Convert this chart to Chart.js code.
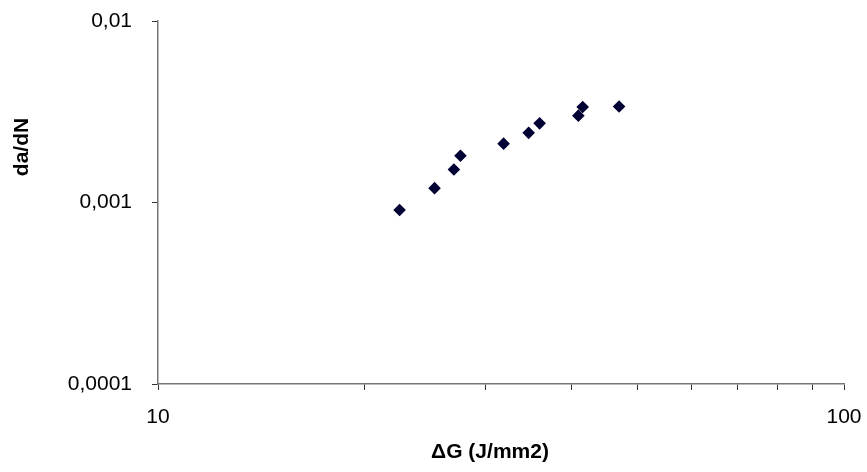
<!DOCTYPE html>
<html><head><meta charset="utf-8">
<script src="https://cdn.jsdelivr.net/npm/chart.js@4/dist/chart.umd.min.js"></script>
<style>html,body{margin:0;padding:0;background:#fff}#wrap{width:867px;height:472px;position:relative}canvas{display:block}</style>
</head><body><div id="wrap"><canvas id="c" width="867" height="472"></canvas></div>
<script>
const deltaG = [22.5, 25.3, 27.0, 27.6, 31.9, 34.7, 36.0, 41.0, 41.6, 47.0];
const dadN = [0.00091, 0.00120, 0.00152, 0.00181, 0.00211, 0.00242, 0.00273, 0.00301, 0.00336, 0.00338];
const xTickValues = [10, 20, 30, 40, 50, 60, 70, 80, 90, 100];
const xLabeled = [10, 100];
const yTickValues = [0.0001, 0.001, 0.01];
const yTickLabels = ['0,0001', '0,001', '0,01'];
const xTitle = 'ΔG (J/mm2)';
const yTitle = 'da/dN';

const FONT = "'Liberation Sans', Arial, sans-serif";

const titlePlugin = {
  id: 'axisTitles',
  afterDraw(chart) {
    const ctx = chart.ctx;
    ctx.save();
    ctx.fillStyle = '#000';
    ctx.font = "bold 21px " + FONT;
    ctx.textAlign = 'center';
    ctx.textBaseline = 'middle';
    ctx.fillText(xTitle, 490, 452);
    ctx.translate(22, 147);
    ctx.rotate(-Math.PI / 2);
    ctx.fillText(yTitle, 0, 0);
    ctx.restore();
  }
};

new Chart(document.getElementById('c'), {
  type: 'scatter',
  data: {
    datasets: [{
      data: deltaG.map((x, i) => ({ x: x, y: dadN[i] })),
      pointStyle: 'rectRot',
      pointRadius: 6.3,
      pointHoverRadius: 6.3,
      backgroundColor: '#000033',
      borderColor: '#000033',
      borderWidth: 0
    }]
  },
  options: {
    responsive: false,
    animation: false,
    devicePixelRatio: 1,
    layout: { padding: { top: 21, right: 23, left: 0, bottom: 0 } },
    plugins: { legend: { display: false }, tooltip: { enabled: false } },
    scales: {
      x: {
        type: 'logarithmic',
        min: 10, max: 100,
        afterBuildTicks(scale) { scale.ticks = xTickValues.map(v => ({ value: v })); },
        afterFit(scale) { scale.height = 88; scale.paddingLeft = 0; scale.paddingRight = 0; scale.paddingTop = 0; scale.paddingBottom = 0; },
        ticks: {
          autoSkip: false, maxRotation: 0, padding: 15,
          color: '#000', font: { family: FONT, size: 21 },
          callback: (v) => xLabeled.includes(v) ? String(v) : ''
        },
        grid: { drawOnChartArea: false, drawTicks: true, tickLength: 6, color: '#333', lineWidth: 1 },
        border: { color: '#777', width: 1.5 }
      },
      y: {
        type: 'logarithmic',
        min: 0.0001, max: 0.01,
        afterBuildTicks(scale) { scale.ticks = yTickValues.map(v => ({ value: v })); },
        afterFit(scale) { scale.width = 158; scale.paddingLeft = 0; scale.paddingRight = 0; scale.paddingTop = 0; scale.paddingBottom = 0; },
        ticks: {
          autoSkip: false, padding: 20,
          color: '#000', font: { family: FONT, size: 21 },
          callback: (v) => { const i = yTickValues.findIndex(t => Math.abs(t - v) / t < 1e-6); return i >= 0 ? yTickLabels[i] : ''; }
        },
        grid: { drawOnChartArea: false, drawTicks: true, tickLength: 6, color: '#333', lineWidth: 1 },
        border: { color: '#777', width: 1.5 }
      }
    }
  },
  plugins: [titlePlugin]
});
</script>
</body></html>
